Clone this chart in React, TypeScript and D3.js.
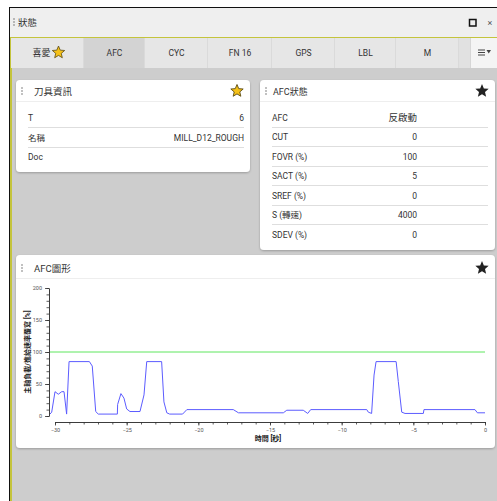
import React, { useEffect, useRef } from "react";
import * as d3 from "d3";

// ---------- data ----------
const tabLabels = ["喜愛", "AFC", "CYC", "FN 16", "GPS", "LBL", "M"];
const toolRowLabels = ["T", "名稱", "Doc"];
const toolRowValues = ["6", "MILL_D12_ROUGH", ""];
const afcRowLabels = ["AFC", "CUT", "FOVR (%)", "SACT (%)", "SREF (%)", "S (轉速)", "SDEV (%)"];
const afcRowValues = ["反啟動", "0", "100", "5", "0", "4000", "0"];

const timeSec = [-30.35, -30.23, -30, -29.77, -29.53, -29.37, -29.19, -29.02, -27.6, -27.4, -27.16, -26.98, -25.65, -25.63, -25.4, -25.19, -25, -24.77, -24.07, -23.79, -23.6, -22.56, -22.4, -22.2, -22.0, -21.1, -20.8, -17.56, -17.2, -14.07, -13.83, -12.68, -12.37, -12.16, -8.25, -8.14, -7.91, -7.74, -7.6, -6.2, -6.05, -5.81, -5.58, -4.3, -4.26, -0.7, -0.53, 0];
const spindleLoad = [3, 6, 38, 34, 38, 38, 3, 85, 85, 78, 7, 3, 3, 18, 35, 28, 11, 7, 7, 33, 85, 85, 22, 5, 3, 3, 10, 10, 5, 5, 9, 9, 4, 10, 10, 6, 4, 64, 85, 85, 54, 6, 4, 4, 10, 10, 5, 5];
const feedOverrideTime = [-30.35, 0];
const feedOverride = [100, 100];

const xTicksMajor = [-30, -25, -20, -15, -10, -5, 0];
const yTicksMajor = [0, 50, 100, 150, 200];
const xTitle = "時間 [秒]";
const yTitle = "主軸負載/進給速率覆寫 [%]";

const FONT = "Roboto, 'Noto Sans CJK TC', sans-serif";
const TXT = "#333";

function starPath(cx: number, cy: number, R: number) {
  const r = R * 0.45;
  const pts: string[] = [];
  for (let i = 0; i < 10; i++) {
    const a = -Math.PI / 2 + (i * Math.PI) / 5;
    const rr = i % 2 === 0 ? R : r;
    pts.push(`${(cx + rr * Math.cos(a)).toFixed(2)},${(cy + rr * Math.sin(a)).toFixed(2)}`);
  }
  return "M" + pts.join("L") + "Z";
}

function Dots({ x, y }: { x: number; y: number }) {
  return (
    <g fill="#555">
      {[-3, 0, 3].map((d) => (
        <rect key={d} x={x - 0.6} y={y + d - 0.6} width={1.2} height={1.2} />
      ))}
    </g>
  );
}

export default function App() {
  const xAxisRef = useRef<SVGGElement>(null);
  const yAxisRef = useRef<SVGGElement>(null);

  const x = d3.scaleLinear().domain([-30, 0]).range([55, 485]);
  const y = d3.scaleLinear().domain([0, 200]).range([416, 288]);

  useEffect(() => {
    const gx = d3.select(xAxisRef.current!);
    gx.selectAll("*").remove();
    gx.append("g").call(
      d3.axisBottom(x).tickValues(d3.range(-30, 1, 1)).tickSize(2.5).tickSizeOuter(0).tickFormat(() => "")
    );
    gx.append("g").call(
      d3.axisBottom(x).tickValues(xTicksMajor).tickSize(3.5).tickSizeOuter(0).tickPadding(3).tickFormat(d3.format("d"))
    );
    gx.selectAll("path,line").attr("stroke", "#333").attr("stroke-width", 0.8);
    gx.selectAll("text").attr("font-size", 5.5).attr("fill", "#555").attr("font-family", FONT);

    const gy = d3.select(yAxisRef.current!);
    gy.selectAll("*").remove();
    gy.append("g").call(
      d3.axisLeft(y).tickValues(d3.range(0, 201, 10)).tickSize(2.5).tickSizeOuter(0).tickFormat(() => "")
    );
    gy.append("g").call(
      d3.axisLeft(y).tickValues(yTicksMajor).tickSize(4).tickSizeOuter(0).tickPadding(3).tickFormat(d3.format("d"))
    );
    gy.selectAll("path,line").attr("stroke", "#333").attr("stroke-width", 0.8);
    gy.selectAll("text").attr("font-size", 5.5).attr("fill", "#555").attr("font-family", FONT);
  }, []);

  const line = d3
    .line<number>()
    .x((_, i) => x(timeSec[i]))
    .y((d) => y(d));
  const greenLine = d3
    .line<number>()
    .x((_, i) => x(feedOverrideTime[i]))
    .y((d) => y(d));

  const tabEdges = [11, 84, 145, 208, 272, 335, 396, 459];

  const toolRowY = [118, 138, 157];
  const afcRowY = [118, 137, 157, 176, 196, 215, 235];

  return (
    <svg
      width={497}
      height={501}
      style={{ position: "absolute", left: 0, top: 0, display: "block" }}
      fontFamily={FONT}
    >
      <defs>
        <filter id="sh" x="-5%" y="-5%" width="110%" height="115%">
          <feDropShadow dx="0" dy="1" stdDeviation="1" floodColor="#000" floodOpacity="0.25" />
        </filter>
      </defs>
      <rect x={0} y={0} width={497} height={501} fill="#fff" />
      {/* top bar */}
      <rect x={9} y={7} width={488} height={30} fill="#efefef" />
      <line x1={9} y1={7.5} x2={497} y2={7.5} stroke="#111" strokeWidth={1} />
      <line x1={9.5} y1={7} x2={9.5} y2={501} stroke="#111" strokeWidth={1} />
      <Dots x={14} y={22} />
      <text x={18} y={25.5} fontSize={9.5} fill={TXT}>狀態</text>
      <rect x={469.5} y={19.5} width={6.5} height={6.5} fill="none" stroke="#111" strokeWidth={1.5} />
      <text x={490} y={25.5} fontSize={9} fill="#555" textAnchor="middle">×</text>

      {/* content bg */}
      <rect x={10} y={37} width={487} height={464} fill="#cdcdcd" />
      <line x1={10} y1={37.5} x2={497} y2={37.5} stroke="#c4c43c" strokeWidth={1.2} />
      <rect x={10} y={37} width={2} height={464} fill="#c4c43c" />

      {/* tabs */}
      {tabLabels.map((t, i) => {
        const x0 = tabEdges[i];
        const x1 = tabEdges[i + 1];
        const sel = i === 1;
        const cx = (x0 + x1) / 2;
        return (
          <g key={t}>
            <rect x={x0} y={38} width={x1 - x0} height={30} fill={sel ? "#d3d3d3" : "#e6e6e6"} />
            <line x1={x1 - 0.5} y1={38} x2={x1 - 0.5} y2={68} stroke="#dadada" />
            {i === 0 ? (
              <g>
                <text x={cx - 6} y={56} fontSize={9} fill={TXT} textAnchor="middle">{t}</text>
                <path d={starPath(cx + 11, 52.5, 6.5)} fill="#f5c118" stroke="#5a4a10" strokeWidth={0.8} />
              </g>
            ) : (
              <text x={cx} y={56} fontSize={8.5} fill={TXT} textAnchor="middle">{t}</text>
            )}
          </g>
        );
      })}
      <rect x={459} y={38} width={11} height={30} fill="#e1e1e1" />
      <rect x={470} y={38} width={27} height={30} fill="#f4f4f4" />
      <line x1={470.5} y1={38} x2={470.5} y2={68} stroke="#d6d6d6" />
      <g fill="#444">
        <rect x={478} y={49.5} width={7} height={1} />
        <rect x={478} y={52} width={7} height={1} />
        <rect x={478} y={54.5} width={7} height={1} />
        <path d="M486.5,50 L491,50 L488.75,53.5 Z" />
      </g>

      {/* card 1 */}
      <rect x={16} y={80} width={234} height={92} rx={4} fill="#fff" filter="url(#sh)" />
      <Dots x={22} y={91} />
      <text x={34} y={94.5} fontSize={9.5} fill={TXT}>刀具資訊</text>
      <path d={starPath(237, 91, 6.5)} fill="#f5c118" stroke="#5a4a10" strokeWidth={0.9} />
      <line x1={16} y1={101.5} x2={250} y2={101.5} stroke="#eeeeee" />
      {toolRowLabels.map((l, i) => (
        <g key={l}>
          <text x={28} y={toolRowY[i] + 3} fontSize={8.5} fill={TXT}>{l}</text>
          <text x={244} y={toolRowY[i] + 3} fontSize={8.5} fill={TXT} textAnchor="end">{toolRowValues[i]}</text>
          {i < toolRowLabels.length - 1 && (
            <line x1={28} y1={toolRowY[i] + 9.5} x2={244} y2={toolRowY[i] + 9.5} stroke="#dedede" />
          )}
        </g>
      ))}

      {/* card 2 */}
      <rect x={260} y={80} width={235} height={170} rx={4} fill="#fff" filter="url(#sh)" />
      <Dots x={266} y={91} />
      <text x={273} y={94.5} fontSize={9} fill={TXT}>AFC狀態</text>
      <path d={starPath(482, 91, 7)} fill="#222" />
      <line x1={260} y1={101.5} x2={495} y2={101.5} stroke="#eeeeee" />
      {afcRowLabels.map((l, i) => (
        <g key={l}>
          <text x={272} y={afcRowY[i] + 3} fontSize={8.5} fill={TXT}>{l}</text>
          <text x={417} y={afcRowY[i] + 3} fontSize={i === 0 ? 9.5 : 8.5} fill={TXT} textAnchor="end">{afcRowValues[i]}</text>
          {i < afcRowLabels.length - 1 && (
            <line x1={272} y1={afcRowY[i] + 9.5} x2={488} y2={afcRowY[i] + 9.5} stroke="#dedede" />
          )}
        </g>
      ))}

      {/* card 3 */}
      <rect x={16} y={255} width={479} height={193} rx={4} fill="#fff" filter="url(#sh)" />
      <Dots x={22} y={268} />
      <text x={34} y={271.5} fontSize={9.5} fill={TXT}>AFC圖形</text>
      <path d={starPath(482, 268, 7)} fill="#222" />
      <line x1={16} y1={278.5} x2={495} y2={278.5} stroke="#eeeeee" />

      <path d={greenLine(feedOverride) || ""} fill="none" stroke="#5ee65e" strokeWidth={1} />
      <path d={line(spindleLoad) || ""} fill="none" stroke="#5c5cff" strokeWidth={1} strokeLinejoin="round" />
      <g ref={xAxisRef} transform="translate(0,422)" />
      <g ref={yAxisRef} transform="translate(49,0)" />
      <text x={268} y={440.5} fontSize={7} fontWeight="bold" fill="#222" textAnchor="middle">{xTitle}</text>
      <text
        transform="translate(29.5,352) rotate(-90)"
        fontSize={7}
        fontWeight="bold"
        fill="#222"
        textAnchor="middle"
      >
        {yTitle}
      </text>
    </svg>
  );
}
